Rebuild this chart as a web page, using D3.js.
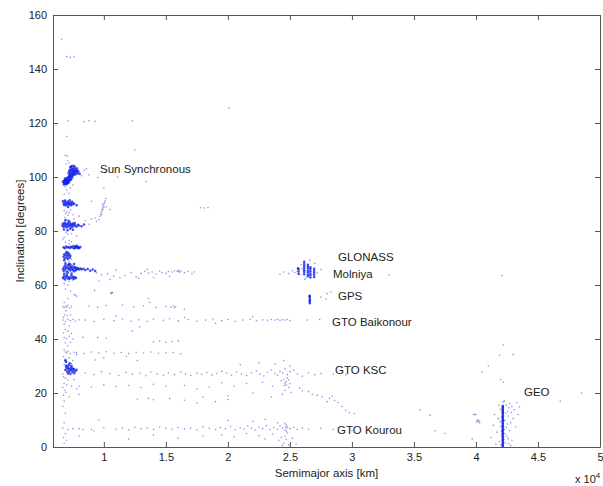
<!DOCTYPE html>
<html lang="en">
<head>
<meta charset="UTF-8" />
<title>Semimajor axis vs inclination</title>
<style>
  html, body { margin: 0; padding: 0; background: #fff; }
  svg { display: block; font-family: "Liberation Sans", Arial, sans-serif; }
</style>
</head>
<body>
<script src="https://d3js.org/d3.v7.min.js"></script>
<script>
// points are [semimajor axis km, inclination deg]
const sunSyncLow = [[6750,98.0],[6800,98.5],[6820,97.6],[6850,98.9],[6880,98.2],[6900,97.8],[6920,98.6],[6950,99.2],[6970,98.0],[7000,98.4],[7020,97.5],[7050,98.9],[7070,98.2],[7100,99.5],[7120,98.6],[7150,97.9],[7180,99.0],[7200,98.3],[7230,99.6],[7260,98.8],[7300,99.3],[7330,100.0],[7360,99.1],[7400,100.3],[6780,97.2],[6860,99.4],[6940,97.3],[7010,99.6],[7080,97.7],[7140,100.1],[7210,100.4],[7290,100.7],[6700,98.3],[7450,99.8],[7500,100.6]];
const sunSyncHigh = [[7150,101.5],[7200,102.2],[7250,101.0],[7280,102.8],[7320,101.7],[7350,102.4],[7380,101.2],[7420,103.0],[7450,102.0],[7480,101.4],[7500,102.7],[7530,101.9],[7560,103.3],[7600,102.3],[7630,101.6],[7660,102.9],[7700,102.1],[7740,101.5],[7780,102.6],[7820,101.9],[7860,102.4],[7900,101.3],[7400,104.0],[7550,104.2],[7300,103.6],[7650,103.8],[7250,100.5],[7700,100.9],[7950,102.0],[8050,101.2],[7480,100.8],[7600,101.0],[7350,103.9],[7820,103.2]];
const sunSyncStray = [[8200,100.5],[8400,102.5],[8600,103.0],[6900,96.5],[7000,95.2],[7200,94.0],[6800,93.5],[7300,96.0],[7500,97.0],[6950,104.8],[7100,106.0],[7050,107.8],[7200,105.2],[8800,100.8],[9500,99.8],[10000,96.0],[11100,100.0],[13400,98.3]];
const polar90 = [[6750,90.2],[6800,89.6],[6850,90.8],[6900,90.1],[6950,89.4],[7000,90.5],[7050,89.9],[7100,90.9],[7150,90.3],[7200,89.7],[7250,90.6],[7300,90.0],[7350,89.5],[7400,90.4],[7450,90.8],[7500,89.9],[6880,91.3],[7120,88.9],[7250,91.4],[7600,90.2],[7800,89.5],[6700,91.0]];
const polarStray = [[6800,87.5],[6900,86.5],[7000,87.0],[7100,85.8],[7200,86.8],[6850,85.0],[7300,87.8],[7500,86.0],[7600,84.5],[6950,84.2],[8000,85.5],[8500,83.8],[9000,84.5],[8800,82.5],[9000,91.0],[10500,88.0]];
const streak10k = [[9700,85.5],[9750,86.3],[9800,87.0],[9850,87.8],[9900,88.5],[9950,89.2],[10000,89.8],[10050,90.5],[10100,91.2],[9820,86.0],[9920,87.9],[10020,88.8],[9600,84.2],[9400,83.5],[9300,84.8],[10150,92.0],[9880,90.0],[10200,89.0]];
const band82 = [[6650,82.0],[6700,82.8],[6750,81.5],[6800,82.3],[6850,83.1],[6900,81.8],[6950,82.6],[7000,81.3],[7050,82.1],[7100,82.9],[7150,81.7],[7200,82.4],[7250,83.2],[7300,81.9],[7350,82.5],[7400,81.4],[7450,82.2],[7500,82.8],[7550,81.8],[7600,82.4],[7650,83.0],[7700,82.0],[7800,81.6],[7900,82.3],[8000,82.0],[8200,81.8],[8400,82.4],[6780,80.6],[7080,80.3],[7280,80.8],[6900,84.0],[7150,83.8],[7500,80.5]];
const band82Stray = [[6950,79.5],[7100,78.8],[7400,79.0],[7800,78.2],[6800,77.8],[7200,76.5],[6700,77.0]];
const band74 = [[6750,74.0],[6850,73.6],[6950,74.3],[7050,73.9],[7150,74.1],[7250,73.7],[7350,74.2],[7450,73.9],[7550,74.4],[7650,73.8],[7750,74.0],[7800,74.5],[7850,73.7],[7900,74.2],[7950,74.0],[8000,73.6],[8100,74.1],[7700,74.3],[7600,73.5]];
const band74Stray = [[7200,75.3],[6900,75.8],[7400,76.0]];
const band71 = [[6750,70.5],[6800,71.3],[6850,69.8],[6900,70.9],[6950,71.8],[7000,70.2],[7050,71.0],[7100,69.6],[7150,70.7],[7200,71.5],[7250,70.1],[7300,70.8],[6800,69.2],[7000,72.2],[7100,71.9]];
const band71Stray = [[6900,68.5],[7200,68.8],[7400,69.5]];
const band66 = [[6700,66.0],[6750,65.2],[6800,66.8],[6850,65.7],[6900,67.2],[6950,66.3],[7000,65.0],[7050,66.6],[7100,67.4],[7150,65.8],[7200,66.2],[7250,67.0],[7300,65.4],[7350,66.5],[7400,65.9],[7450,66.9],[7500,65.6],[7550,66.3],[7600,65.1],[7650,66.7],[7700,66.0],[7750,65.5],[7800,66.4],[7850,65.9],[7900,66.2],[8000,65.7],[8100,66.1],[8200,65.8],[8350,66.0],[8500,65.6],[8700,65.9],[8900,65.3],[9100,65.7],[9300,65.2],[6800,64.2],[7000,63.9],[7200,67.9],[6900,68.0],[7400,64.3],[7600,67.8],[7100,64.6],[7300,67.6]];
const band62 = [[6700,62.6],[6780,63.2],[6850,62.1],[6920,62.9],[7000,63.4],[7080,62.4],[7150,63.0],[7220,62.2],[7300,62.8],[7380,63.5],[7450,62.5],[7530,63.1],[7600,62.3],[7680,62.9],[7750,62.6]];
const band62Stray = [[6900,61.5],[7200,61.3],[7500,61.8],[6800,60.5],[7100,60.0]];
const leoColumn = [[7700,56.2],[7800,55.8],[7600,56.5],[6900,58.5],[7300,57.8],[7100,55.0],[6800,53.5],[6700,52.0],[6800,51.6],[6900,52.2],[7000,51.8],[7100,52.4],[7250,51.5],[7400,52.0],[6950,50.5],[6850,49.0],[7050,48.6],[7300,48.9],[6750,48.0],[6700,47.0],[6900,46.5],[7100,47.2],[7300,46.8],[7500,47.3],[7700,46.6],[8000,47.1],[6800,45.5],[7200,44.8],[6900,43.5],[7100,43.0],[6750,42.3],[7400,42.0],[6800,40.5],[7000,40.2],[7200,41.0],[7500,40.0],[8300,40.6],[6900,38.5],[7100,37.5],[7300,38.8],[6800,36.0],[6900,35.2],[7000,34.8],[7100,35.5],[7300,34.6],[7600,35.1],[7800,34.3],[6750,33.5],[7200,33.0],[6850,32.2],[6900,31.8],[6950,32.5],[7000,31.5],[7500,32.0],[6800,30.5],[7400,30.8],[6700,27.0],[6750,26.0],[6900,25.5],[7100,24.8],[6800,23.5],[7000,23.0],[6700,22.0],[6850,21.0],[6950,20.3],[6750,19.2],[7200,18.5],[6800,17.0],[7400,22.5],[7600,25.0],[7800,21.5],[8000,19.5],[6700,15.0],[6900,12.5],[6800,9.0],[6700,7.0],[7100,6.5],[6900,5.0],[6750,3.5],[7000,2.5],[6800,1.5],[7500,6.8],[8300,6.5],[9200,6.0],[9600,10.0],[8000,4.0]];
const leo28 = [[6900,28.5],[7000,29.2],[7050,28.0],[7100,29.6],[7150,28.8],[7200,27.9],[7250,29.0],[7300,28.4],[7350,29.4],[7400,28.7],[7450,27.8],[7500,29.1],[7550,28.3],[7600,28.9],[7700,28.1],[7800,28.6],[7000,30.2],[7200,30.4],[7400,30.0],[7100,27.2],[7300,27.0],[6950,29.8],[7250,31.0],[7600,27.3],[6900,32.0],[6950,31.6]];
const band65 = [[9400,64.5],[9800,63.8],[10300,64.2],[10800,63.3],[11300,62.8],[11700,63.5],[12200,64.6],[12600,63.0],[13000,64.3],[13300,65.0],[13600,64.4],[13900,64.8],[14200,64.1],[14500,65.2],[14700,64.6],[15000,64.3],[15200,65.0],[15500,64.8],[15700,65.3],[15900,65.0],[16000,65.4],[16050,65.1],[16100,64.7],[16200,65.2],[16500,64.5],[16800,65.0],[17100,64.2],[17300,64.8],[12800,62.5],[14000,62.8],[15300,63.2],[13500,65.8],[11000,65.6],[10500,62.0],[9600,61.5]];
const band57 = [[10600,57.0],[10650,57.3],[10550,56.8],[10700,57.1],[9250,58.0],[13600,55.0]];
const band52 = [[8800,52.2],[9500,51.8],[10200,52.4],[11500,52.6],[12400,51.9],[13200,52.3],[14200,51.7],[15000,52.0],[15400,51.8],[15600,52.2],[15700,51.6],[15800,52.0],[13700,53.5],[16500,51.0]];
const gtoBaikonour = [[8500,47.0],[9200,46.5],[10000,47.3],[10800,46.8],[11500,47.4],[12200,46.6],[12800,47.1],[13500,46.5],[14000,47.3],[14800,46.9],[15300,47.5],[16000,46.7],[16800,47.2],[17500,46.6],[18200,47.0],[18800,47.4],[19500,46.8],[20000,47.2],[20600,46.5],[21200,47.0],[21800,47.3],[22300,46.8],[22800,47.1],[23200,46.9],[23500,47.2],[23800,47.0],[24000,47.3],[24200,46.9],[24400,47.1],[24600,47.0],[24800,47.2],[25000,46.8],[22000,48.2],[19000,45.8],[16500,48.0],[11000,48.5],[26400,47.0],[27400,47.2],[12900,44.5],[12300,43.0]];
const band39 = [[14000,39.0],[14500,39.2],[15000,38.8],[15500,39.1],[16000,39.3],[9500,40.6],[10200,40.3]];
const band35 = [[7800,35.0],[8400,34.6],[9000,35.2],[9600,34.8],[10200,35.3],[10800,34.7],[11400,35.0],[12000,34.6],[12600,35.1],[13200,34.8],[13800,35.2],[14400,34.7],[15000,34.9],[15600,35.0],[16200,34.5],[10000,33.0],[11800,33.5],[9300,32.2],[12700,32.0]];
const gtoKsc = [[8500,27.5],[9200,26.8],[9800,27.9],[10500,27.2],[11200,26.5],[11800,27.6],[12300,26.9],[12900,27.3],[13400,26.4],[13800,27.8],[14300,27.0],[14800,26.6],[15200,27.4],[15700,26.8],[16200,27.7],[16600,27.1],[17000,26.5],[17500,27.3],[17900,26.9],[18300,27.6],[18700,26.7],[19100,27.2],[19500,28.0],[19900,27.4],[20300,26.6],[20700,27.8],[21100,27.1],[21500,26.5],[21900,27.5],[22300,28.2],[22600,27.0],[22900,26.3],[23200,27.7],[23500,28.5],[23800,27.2],[24000,26.6],[24200,28.0],[24400,27.4],[24600,29.0],[24800,26.8],[25000,27.9],[25300,28.4],[25600,27.0],[26000,26.2],[26500,27.5],[27000,26.8],[27500,27.2],[28500,27.0],[29500,26.8]];
const gtoKscSpread = [[21000,30.5],[22500,31.2],[23800,30.8],[24500,32.0],[25000,30.0],[24300,24.5],[24700,23.0],[24900,22.0],[24600,21.0],[25100,20.2],[24400,19.5],[23600,22.5],[22800,24.0],[21500,23.5],[20500,22.5],[19500,23.8],[18500,22.2],[17500,21.6],[16500,22.8],[25800,21.8],[26500,20.5],[27200,19.2],[23500,18.5],[22000,20.0],[20000,19.0],[24500,25.0],[24700,24.2],[24800,25.5],[24600,23.6],[24900,24.8],[25000,23.4],[24550,22.8],[26000,20.8],[26800,19.5],[27600,18.6],[28200,18.0],[28600,17.2],[28900,16.5],[29200,15.0],[29500,13.5],[29800,12.8],[30200,12.4],[28400,18.8],[28000,16.8]];
const band22 = [[8000,22.5],[9000,22.2],[10000,23.0],[11000,22.4],[12000,22.8],[13000,22.0],[14000,23.2],[15000,22.5]];
const band18 = [[12700,17.8],[13600,18.0],[14000,17.5],[15300,17.9],[16500,17.3],[17500,16.3],[18000,18.5],[19000,16.8],[20000,17.6]];
const gtoKourou = [[8000,6.8],[9000,6.5],[10000,7.2],[11000,6.6],[11500,7.0],[12000,6.4],[12500,7.3],[13000,6.8],[13500,7.1],[14000,6.5],[14500,7.4],[15000,6.9],[15500,6.6],[16000,7.2],[16500,6.7],[17000,7.0],[17500,6.3],[18000,7.5],[18500,6.9],[19000,6.5],[19400,7.2],[19800,6.8],[20200,7.6],[20600,6.4],[21000,7.1],[21300,6.6],[21600,7.8],[21900,7.0],[22200,6.3],[22500,7.4],[22800,6.8],[23100,7.9],[23400,6.5],[23700,7.2],[24000,6.6],[24200,7.8],[24400,7.0],[24600,6.2],[24800,7.5],[25000,6.8],[25300,7.2],[25600,6.5],[26000,7.0],[26500,6.6],[27500,6.9],[28500,6.5],[30000,6.2],[24650,7.5],[24700,8.2],[24750,6.9],[24600,8.8],[24720,5.8]];
const gtoKourouSpread = [[19500,4.5],[20500,3.8],[21500,5.0],[22500,4.2],[23000,3.0],[23600,4.8],[24100,2.5],[24300,3.5],[24500,1.5],[24700,2.8],[24900,0.8],[24600,4.0],[24800,5.2],[25200,3.2],[22000,9.5],[23000,10.2],[24000,9.0],[20000,9.8],[18000,4.0],[16000,3.2],[14000,4.5],[12000,3.0],[25500,1.0],[24400,0.5]];
const glonass = [[26150,64.0],[26150,64.8],[26150,65.5],[26150,66.3],[26150,67.0],[26150,67.8],[26150,68.6],[26450,63.2],[26450,63.9],[26450,64.7],[26450,65.4],[26450,66.2],[26450,66.9],[26450,67.5],[26650,62.8],[26650,63.6],[26650,64.3],[26650,65.1],[26650,65.9],[26650,66.6],[26950,63.0],[26950,63.8],[26950,64.5],[26950,65.3],[26950,66.0],[25700,64.2],[25700,65.0],[25700,65.8],[25650,66.2]];
const glonassStray = [[24500,64.8],[24900,64.2],[25200,65.3],[25400,64.6],[25600,65.0],[25800,63.8],[26000,66.0],[26300,62.5],[27200,64.5],[27500,65.8],[25900,67.5],[26600,69.2],[27000,68.0],[26200,62.0],[24200,64.0],[33000,63.7],[42100,63.5]];
const gps = [[26600,53.2],[26600,53.9],[26610,54.6],[26600,55.3],[26590,56.0],[26600,54.2],[26595,55.7]];
const gpsStray = [[27500,55.5],[28000,56.8],[28300,57.5],[27900,54.8]];
const geoBelt = [[42160,0.1],[42170,0.5],[42150,0.9],[42165,1.3],[42175,1.8],[42160,2.2],[42155,2.7],[42168,3.1],[42162,3.6],[42170,4.0],[42158,4.5],[42165,5.0],[42172,5.4],[42160,5.9],[42150,6.3],[42168,6.8],[42163,7.2],[42175,7.7],[42158,8.1],[42166,8.6],[42160,9.0],[42170,9.5],[42155,9.9],[42164,10.4],[42172,10.8],[42160,11.3],[42166,11.7],[42158,12.2],[42170,12.6],[42162,13.1],[42168,13.5],[42155,14.0],[42165,14.4],[42160,14.9],[42170,15.2]];
const geoSpread = [[41200,3.5],[41400,8.0],[41500,12.0],[41700,5.5],[41800,10.5],[41900,2.0],[41950,14.0],[42000,7.5],[42050,11.0],[42080,4.5],[42100,13.0],[42250,2.8],[42300,6.5],[42350,9.8],[42400,12.5],[42450,15.5],[42500,4.0],[42550,8.5],[42600,11.5],[42650,14.5],[42700,6.0],[42750,16.0],[42800,9.0],[42850,12.8],[42900,15.0],[43000,10.5],[43100,13.8],[43200,7.5],[43300,16.5],[43400,12.0],[42200,16.8],[41850,15.5],[42400,1.5],[42600,3.0],[42900,2.5],[41600,1.0],[42300,17.0],[43500,14.8],[42000,0.8],[42800,0.5],[42250,10.0],[42350,4.8],[42450,7.2],[42050,5.8],[41950,9.2],[42550,13.2],[42650,1.2]];
const nearGeo = [[40100,9.2],[40200,9.8],[40250,9.4],[40150,10.1],[40300,9.0],[40050,9.7],[39800,12.0],[39900,12.1],[40000,12.0]];
const farStray = [[42200,37.8],[41900,34.0],[43000,34.2],[40500,27.8],[42000,25.0],[35500,13.8],[36300,11.8],[37500,5.0],[36700,6.0],[39700,3.0],[46800,17.0],[48500,20.0],[42200,24.0],[41000,30.0]];
const retrograde = [[6600,151.0],[7000,144.6],[7300,144.3],[7600,144.5],[7100,120.7],[8400,120.5],[8800,120.8],[9300,120.6],[12300,120.8],[7000,115.0],[12500,110.0],[6900,108.0],[20100,125.5],[17800,88.6],[18100,88.5],[18400,88.7]];

const xTicks = [10000, 15000, 20000, 25000, 30000, 35000, 40000, 45000, 50000];
const yTicks = [0, 20, 40, 60, 80, 100, 120, 140, 160];
const labels = [
  ["Sun Synchronous", 100, 173],
  ["GLONASS", 338, 261],
  ["Molniya", 333, 278],
  ["GPS", 338, 300],
  ["GTO Baikonour", 332, 326],
  ["GTO KSC", 335, 374],
  ["GTO Kourou", 337, 434],
  ["GEO", 524, 396]
];

const dense = [sunSyncLow, sunSyncHigh, polar90, band82, band74, band71, band66, band62, leo28, glonass, gps, geoBelt];
const sparse = [sunSyncStray, polarStray, streak10k, band82Stray, band74Stray, band71Stray, band62Stray, leoColumn,
  band65, band57, band52, gtoBaikonour, band39, band35, gtoKsc, gtoKscSpread, band22, band18, gtoKourou,
  gtoKourouSpread, glonassStray, gpsStray, geoSpread, nearGeo, farStray, retrograde];

const W = 603, H = 486;
const m = { left: 53, right: 3, top: 15, bottom: 39 };

const svg = d3.select("body").append("svg").attr("width", W).attr("height", H);

const x = d3.scaleLinear().domain([5900, 50000]).range([m.left, W - m.right]);
const y = d3.scaleLinear().domain([0, 160]).range([H - m.bottom, m.top]);

const plot = svg.append("g");
plot.selectAll(".sp").data(sparse.flat()).join("circle")
  .attr("cx", d => x(d[0])).attr("cy", d => y(d[1])).attr("r", 0.8)
  .attr("fill", "#3a3acc").attr("fill-opacity", 0.55);
plot.selectAll(".dn").data(dense.flat()).join("circle")
  .attr("cx", d => x(d[0])).attr("cy", d => y(d[1])).attr("r", 1.25)
  .attr("fill", "#1020e8").attr("fill-opacity", 0.8);

// box with inward ticks like matlab
const axisCol = "#555";
const fmtX = d => d3.format("~g")(d / 10000);
const gB = svg.append("g").attr("transform", `translate(0,${H - m.bottom})`)
  .call(d3.axisBottom(x).tickValues(xTicks).tickFormat(fmtX).tickSizeInner(-5).tickSizeOuter(0).tickPadding(6));
const gT = svg.append("g").attr("transform", `translate(0,${m.top})`)
  .call(d3.axisTop(x).tickValues(xTicks).tickFormat("").tickSizeInner(-5).tickSizeOuter(0));
const gL = svg.append("g").attr("transform", `translate(${m.left},0)`)
  .call(d3.axisLeft(y).tickValues(yTicks).tickSizeInner(-5).tickSizeOuter(0).tickPadding(6));
const gR = svg.append("g").attr("transform", `translate(${W - m.right},0)`)
  .call(d3.axisRight(y).tickValues(yTicks).tickFormat("").tickSizeInner(-5).tickSizeOuter(0));
[gB, gT, gL, gR].forEach(g => {
  g.selectAll("path,line").attr("stroke", axisCol);
  g.selectAll("text").attr("fill", "#222").style("font-size", "11px");
});

svg.selectAll(".lab").data(labels).join("text")
  .attr("x", d => d[1]).attr("y", d => d[2])
  .attr("fill", "#222").style("font-size", "11.5px")
  .text(d => d[0]);

svg.append("text").attr("x", (m.left + W - m.right) / 2).attr("y", 477)
  .attr("text-anchor", "middle").attr("fill", "#222").style("font-size", "11.5px")
  .text("Semimajor axis [km]");
svg.append("text").attr("transform", `translate(24,${(m.top + H - m.bottom) / 2}) rotate(-90)`)
  .attr("text-anchor", "middle").attr("fill", "#222").style("font-size", "11.5px")
  .text("Inclination [degrees]");
const ex = svg.append("text").attr("x", 575).attr("y", 483).attr("fill", "#222").style("font-size", "11px");
ex.append("tspan").text("x 10");
ex.append("tspan").attr("dy", -5).style("font-size", "8px").text("4");
</script>
</body>
</html>
